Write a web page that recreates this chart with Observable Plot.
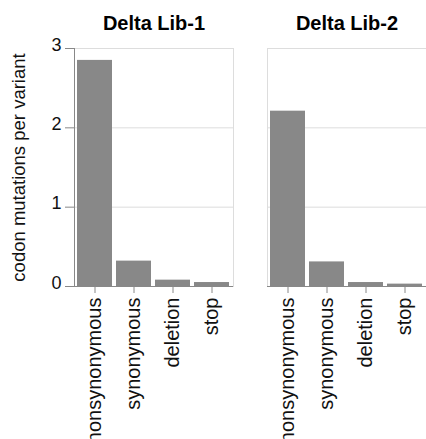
<!DOCTYPE html>
<html>
<head>
<meta charset="utf-8">
<script src="https://cdn.jsdelivr.net/npm/d3@7"></script>
<script src="https://cdn.jsdelivr.net/npm/@observablehq/plot@0.6"></script>
<style>
  html, body { margin: 0; padding: 0; background: #fff; overflow: hidden; }
  svg { display: block; }
</style>
</head>
<body>
<div id="chart"></div>
<script>
const libraries = ["Delta Lib-1", "Delta Lib-2"];
const categories = ["nonsynonymous", "synonymous", "deletion", "stop"];
const lib1Values = [2.85, 0.32, 0.08, 0.05];
const lib2Values = [2.21, 0.31, 0.05, 0.03];
const yTicks = [0, 1, 2, 3];
const yTitle = "codon mutations per variant";

const seriesValues = [lib1Values, lib2Values];
const data = [];
libraries.forEach((lib, i) => {
  categories.forEach((cat, j) => {
    data.push({ library: lib, mutation: cat, value: seriesValues[i][j] });
  });
});

const font = "'Liberation Sans', Arial, Helvetica, sans-serif";

const chart = Plot.plot({
  width: 426,
  height: 439,
  marginLeft: 74,
  marginRight: 0,
  marginTop: 48,
  marginBottom: 153,
  style: { fontFamily: font, background: "#fff", color: "#000" },
  fx: { domain: libraries, padding: 34 / 193, label: null },
  x: { domain: categories, paddingInner: 0.1, paddingOuter: 0.05, label: null },
  y: { domain: [0, 3], label: null },
  marks: [
    Plot.gridY(yTicks, { stroke: "#ddd", strokeOpacity: 1 }),
    Plot.frame({ stroke: "#ddd" }),
    Plot.barY(data, { fx: "library", x: "mutation", y: "value", fill: "#888" }),
    Plot.ruleY([0], { stroke: "#888" }),
    Plot.frame({ anchor: "left", stroke: "#888", facetAnchor: "left" }),
    // tick marks
    Plot.axisY({
      ticks: yTicks,
      tickSize: 9,
      tickFormat: () => "",
      stroke: "#888",
      label: null
    }),
    // tick labels, nudged up slightly as in the reference
    Plot.axisY({
      ticks: yTicks,
      tickSize: 0,
      tickPadding: 13,
      tickFormat: d3.format("d"),
      fontSize: 18,
      fill: "#111",
      dy: -3.5,
      label: null
    }),
    // axis title
    Plot.axisY({
      ticks: [],
      fontSize: 18.5,
      fill: "#111",
      dy: -9.5,
      label: yTitle,
      labelAnchor: "center",
      labelArrow: "none",
      labelOffset: 63
    }),
    Plot.axisX({
      tickRotate: -90,
      tickSize: 7,
      tickPadding: 4,
      fontSize: 20,
      stroke: "#888",
      fill: "#111",
      label: null
    }),
    Plot.axisFx({
      anchor: "top",
      tickSize: 0,
      tickPadding: 19,
      fontSize: 20,
      fontWeight: "bold",
      label: null
    })
  ]
});

document.getElementById("chart").append(chart);
</script>
</body>
</html>
